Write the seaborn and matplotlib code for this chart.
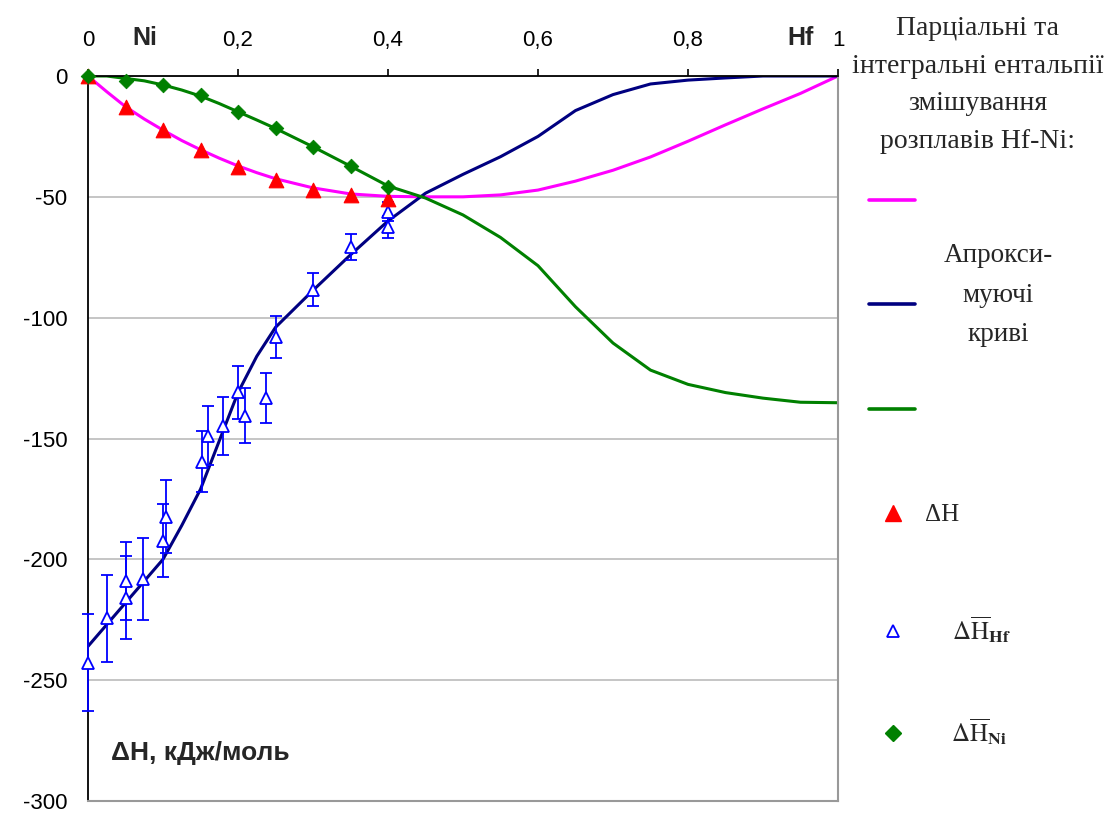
import seaborn as sns
import matplotlib
matplotlib.use('Agg')
import matplotlib.pyplot as plt
from matplotlib.lines import Line2D

# measured points: integral enthalpy (red) and partial enthalpy of Ni (green)
x_meas = [0.0, 0.05, 0.10, 0.15, 0.20, 0.25, 0.30, 0.35, 0.40]
dh_mix = [0.0, -12.7, -22.4, -30.7, -37.6, -43.0, -47.0, -49.3, -50.7]
dh_ni = [0.0, -1.9, -3.7, -7.9, -14.8, -21.7, -29.3, -37.3, -46.1]

# partial enthalpy of Hf with error bars
x_hf = [0.0, 0.025, 0.05, 0.05, 0.073, 0.10, 0.104, 0.152, 0.16, 0.18,
        0.20, 0.209, 0.237, 0.25, 0.30, 0.35, 0.40, 0.40]
dh_hf = [-242.7, -224.3, -215.8, -208.9, -208.2, -192.3, -182.3, -159.6, -148.8, -145.0,
         -130.8, -140.5, -133.2, -108.0, -88.4, -70.7, -56.2, -62.5]
err_hf = [20, 18, 17, 16, 17, 15, 15, 12.5, 12.3, 12,
          11, 11.5, 10.5, 8.6, 6.7, 5.4, 4, 4.7]

# approximating curves
fit_x = [0.0, 0.025, 0.05, 0.075, 0.10, 0.125, 0.15, 0.175, 0.20, 0.225, 0.25,
         0.30, 0.35, 0.40, 0.45, 0.50, 0.55, 0.60, 0.65, 0.70, 0.75, 0.80,
         0.85, 0.90, 0.95, 1.0]
fit_mix = [0.0, -6.5, -12.7, -17.8, -22.4, -26.7, -30.5, -34.0, -37.2, -40.0, -42.5,
           -46.3, -48.8, -49.8, -50.0, -50.0, -49.2, -47.2, -43.5, -39.0, -33.5, -27.0,
           -20.2, -13.6, -7.2, 0.0]
fit_hf = [-236.0, -227.0, -218.0, -209.0, -200.0, -186.0, -171.0, -151.0, -131.0, -116.0, -104.0,
          -88.7, -74.0, -60.0, -48.5, -40.7, -33.4, -25.0, -14.3, -7.7, -3.3, -1.7,
          -0.8, 0.0, 0.0, 0.0]
fit_ni = [0.0, 0.0, -1.0, -2.0, -3.7, -5.8, -8.3, -11.4, -14.8, -18.2, -21.7,
          -29.3, -37.3, -45.5, -50.5, -57.5, -66.8, -78.5, -95.5, -110.5, -121.7, -127.6,
          -131.0, -133.3, -135.0, -135.2]

x_ticks = [0, 0.2, 0.4, 0.6, 0.8, 1.0]
x_ticklabels = ['0', '0,2', '0,4', '0,6', '0,8', '1']
y_ticks = [0, -50, -100, -150, -200, -250, -300]

PINK = '#ff00ff'
NAVY = '#000080'
GREEN = '#008000'

sns.set_style('white')
plt.rcParams['font.family'] = ['Liberation Sans', 'DejaVu Sans']
plt.rcParams['axes.unicode_minus'] = False
plt.rcParams['mathtext.fontset'] = 'stix'

fig = plt.figure(figsize=(11.12, 8.16), dpi=100)
ax = fig.add_axes([88 / 1112, 15 / 816, 750 / 1112, 725 / 816])

sns.lineplot(x=fit_x, y=fit_mix, color=PINK, lw=2.2, ax=ax, estimator=None, sort=False, zorder=2)
sns.lineplot(x=fit_x, y=fit_hf, color=NAVY, lw=2.2, ax=ax, estimator=None, sort=False, zorder=2)
sns.lineplot(x=fit_x, y=fit_ni, color=GREEN, lw=2.2, ax=ax, estimator=None, sort=False, zorder=2)

eb = ax.errorbar(x_hf, dh_hf, yerr=err_hf, fmt='^', ms=8, mfc='white', mec='blue', mew=1.3,
                 ecolor='blue', elinewidth=1.3, capsize=4.3, capthick=1.3, zorder=3)
for art in eb.get_children():
    art.set_clip_on(False)
sns.scatterplot(x=x_meas, y=dh_mix, marker='^', s=110, color='red', edgecolor='red',
                ax=ax, zorder=4, clip_on=False)
sns.scatterplot(x=x_meas, y=dh_ni, marker='D', s=55, color=GREEN, edgecolor=GREEN,
                ax=ax, zorder=5, clip_on=False)

ax.set_xlim(0, 1)
ax.set_ylim(-300, 0)
ax.xaxis.tick_top()
ax.set_xticks(x_ticks)
ax.set_xticklabels(x_ticklabels)
ax.set_yticks(y_ticks)
ax.set_yticklabels([str(v) for v in y_ticks])
ax.tick_params(axis='x', direction='out', length=5, width=1.2, pad=13, labelsize=16, colors='black')
ax.tick_params(axis='y', direction='out', length=6, width=1.2, pad=9, labelsize=16, colors='black')
ax.yaxis.grid(True, color='#c0c0c0', lw=1.3)
ax.xaxis.grid(False)
for side in ('left', 'top'):
    ax.spines[side].set_color('black')
    ax.spines[side].set_linewidth(1.3)
for side in ('right', 'bottom'):
    ax.spines[side].set_color('#999999')
    ax.spines[side].set_linewidth(1.5)
ax.set_xlabel('')
ax.set_ylabel('')

ax.text(0.076, 1.052, 'Ni', transform=ax.transAxes, ha='center', va='center',
        fontsize=18, fontweight='bold')
ax.text(0.95, 1.052, 'Hf', transform=ax.transAxes, ha='center', va='center',
        fontsize=18, fontweight='bold')
ax.text(0.031, 0.066, 'ΔH, кДж/моль', transform=ax.transAxes, ha='left', va='center',
        fontsize=19, fontweight='bold')

# legend block on the right
serif = ['Liberation Serif', 'DejaVu Serif']
fig.text(978 / 1112, 1 - 85 / 816, 'Парціальні та\nінтегральні ентальпії\nзмішування\nрозплавів Hf-Ni:',
         ha='center', va='center', family=serif, fontsize=20, linespacing=1.65)
fig.text(998 / 1112, 1 - 295 / 816, 'Апрокси-\nмуючі\nкриві',
         ha='center', va='center', family=serif, fontsize=19.5, linespacing=1.75)

for color, row in zip([PINK, NAVY, GREEN], [201, 305, 410]):
    fig.legend(handles=[Line2D([], [], color=color, lw=2.6)], labels=[''],
               loc='center left', bbox_to_anchor=(869 / 1112, 1 - row / 816),
               frameon=False, handlelength=3.3, borderpad=0, borderaxespad=0,
               handletextpad=0, fontsize=10)

marker_handles = [
    Line2D([], [], ls='none', marker='^', ms=11, color='red'),
    Line2D([], [], ls='none', marker='^', ms=8, mfc='white', mec='blue', mew=1.3),
    Line2D([], [], ls='none', marker='D', ms=8, color=GREEN),
]
marker_labels = ['ΔH', r'$\Delta\overline{\mathrm{H}}_{\mathbf{Hf}}$',
                 r'$\Delta\overline{\mathrm{H}}_{\mathbf{Ni}}$']
marker_rows = [515, 630, 732]
marker_pads = [0.8, 1.9, 1.85]
for h, lab, row, pad in zip(marker_handles, marker_labels, marker_rows, marker_pads):
    fig.legend(handles=[h], labels=[lab], loc='center left',
               bbox_to_anchor=(880 / 1112, 1 - row / 816), frameon=False,
               handlelength=1.0, borderpad=0, borderaxespad=0,
               handletextpad=pad, prop={'family': serif, 'size': 18})

fig.savefig('out.png', dpi=100)
